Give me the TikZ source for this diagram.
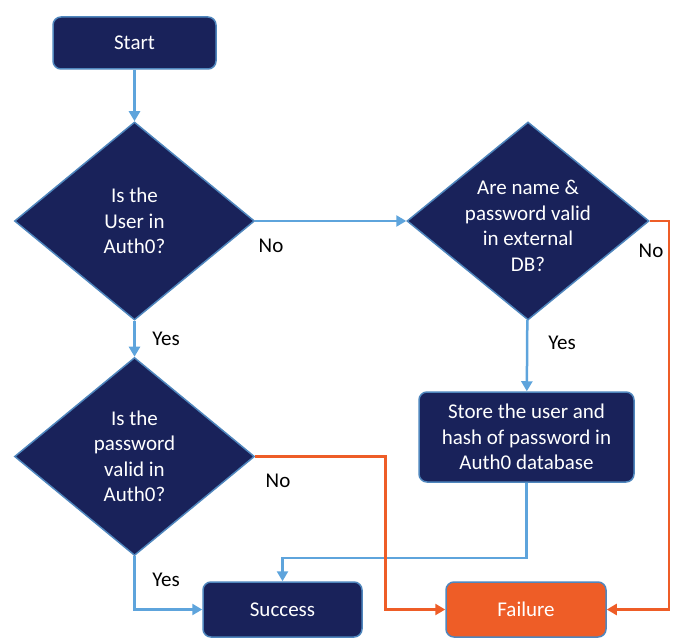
\documentclass[tikz,border=0pt]{standalone}
\usepackage{fontspec}
\setmainfont{Carlito}
\usetikzlibrary{shapes.geometric,arrows.meta}
\definecolor{navy}{HTML}{19225A}
\definecolor{edgeblue}{HTML}{4F86BD}
\definecolor{lineblue}{HTML}{5EA4DC}
\definecolor{failorange}{HTML}{EE5D27}

\begin{document}
\begin{tikzpicture}[x=1pt,y=-1pt,
  every node/.style={font=\fontsize{21}{25.5}\selectfont},
  box/.style={draw=edgeblue,line width=1.5pt,fill=navy,text=white,rounded corners=8pt,align=center,inner sep=0pt},
  decision/.style={diamond,draw=edgeblue,line width=1.5pt,fill=navy,text=white,align=center,inner sep=-12pt,minimum width=240pt,minimum height=198pt,aspect=1.21},
  okline/.style={draw=lineblue,line width=2.5pt,-{Triangle[length=10pt,width=11pt]}},
  failline/.style={draw=failorange,line width=2.5pt,-{Triangle[length=10pt,width=11pt]}}]
\useasboundingbox (0,0) rectangle (690,644);

\node[box,minimum width=163pt,minimum height=52pt] (start) at (134.5,43) {Start};
\node[decision] (inauth) at (134.5,221) {Is the\\User in\\Auth0?};
\node[decision] (pwvalid) at (134.5,456.5) {Is the\\password\\valid in\\Auth0?};
\node[decision,minimum width=242pt] (extdb) at (528,221) {\raisebox{-7pt}[\height][\depth]{\begin{tabular}{@{}c@{}}Are name \&\\password valid\\in external\\DB?\end{tabular}}};
\node[box,minimum width=215pt,minimum height=90pt] (store) at (526.5,437) {Store the user and\\hash of password in\\Auth0 database};
\node[box,minimum width=159pt,minimum height=55pt] (success) at (282.5,609.5) {Success};
\node[box,fill=failorange,minimum width=160pt,minimum height=55pt] (failure) at (526,609.5) {Failure};

% blue connectors
\draw[okline] (start) -- (inauth);
\draw[okline] (inauth) -- (extdb);
\draw[okline] (inauth) -- (pwvalid);
\draw[okline] (extdb) -- (store);
\draw[okline] (pwvalid.south) |- (success.west);
\draw[okline] (store.south) -- ++(0,75) -| (success.north);

% orange connectors
\draw[failline] (extdb.east) -- ++(19,0) |- (failure.east);
\draw[failline] (pwvalid.east) -- ++(130,0) |- (failure.west);

% labels
\node (lno1) at (271,246) {No};
\node (lyes1) at (166,339) {Yes};
\node (lyes2) at (562,343) {Yes};
\node (lno2) at (651,251) {No};
\node (lno3) at (278,481) {No};
\node (lyes3) at (166,580) {Yes};
\end{tikzpicture}
\end{document}
